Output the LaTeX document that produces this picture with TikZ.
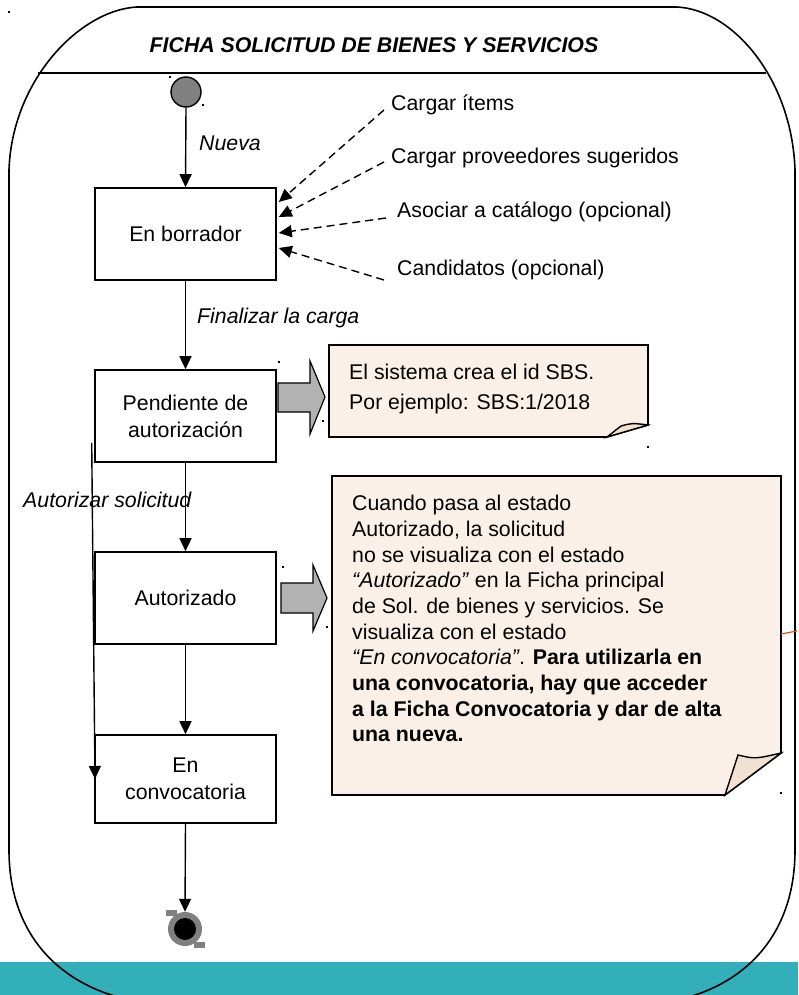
\documentclass[tikz,border=0pt]{standalone}
\usepackage{fontspec}
\setmainfont{Liberation Sans}
\usetikzlibrary{arrows.meta}
\definecolor{notefill}{HTML}{FAF0E7}
\definecolor{flapfill}{HTML}{F2E1D0}
\definecolor{tealband}{HTML}{33AFB9}
\definecolor{blockgray}{HTML}{B2B2B2}
\definecolor{startgray}{HTML}{808080}
\definecolor{redline}{HTML}{D9531E}
\begin{document}
\begin{tikzpicture}[x=1pt,y=-1pt,
  txt/.style={font=\fontsize{21.3}{25.7}\selectfont, inner sep=0pt},
  lbl/.style={txt, anchor=west},
  ilbl/.style={lbl, font=\fontsize{21.3}{25.7}\selectfont\itshape},
  state/.style={draw, line width=1.6pt, minimum width=181pt, minimum height=92pt, align=center, inner sep=0pt, font=\fontsize{21.3}{27}\selectfont},
  flow/.style={line width=1.4pt, -{Triangle[length=13pt,width=12pt]}},
  dflow/.style={line width=1.4pt, dash pattern=on 8pt off 5pt, -{Triangle[length=13pt,width=12pt]}},
  block/.style={draw, line width=1.2pt, fill=blockgray},
  notebox/.style={fill=notefill, draw, line width=1.6pt},
  flap/.style={fill=flapfill, draw, line width=1.4pt},
  handle/.style={fill=black, inner sep=0pt, minimum size=2.2pt},
]
\useasboundingbox (0,0) rectangle (798,995);
\fill[white] (0,0) rectangle (798,995);
% teal band
\fill[tealband] (0,962) rectangle (798,995);
% outer frame
\draw[line width=1.6pt] (9,850) -- (9,170) .. controls (12,80) and (80,10) .. (137,7) -- (677,7)
  .. controls (734,10) and (792,80) .. (795,170) -- (795,850)
  .. controls (795,935) and (745,985) .. (677,1000) -- (130,1000)
  .. controls (60,985) and (9,935) .. (9,850) -- cycle;
% title
\node[inner sep=0pt, font=\fontsize{21.3}{25}\selectfont\bfseries\itshape] (title) at (374,45) {FICHA SOLICITUD DE BIENES Y SERVICIOS};
\draw[line width=1.6pt] (38,73) -- (766,73);
% states
\node[circle, draw, line width=1.4pt, fill=startgray, minimum size=30pt, inner sep=0pt] (start) at (186,92) {};
\node[state] (borr) at (185.5,234) {En borrador};
\node[state] (pend) at (185.5,416) {Pendiente de\\autorización};
\node[state] (auto) at (185.5,598) {Autorizado};
\node[state, minimum height=88pt] (conv) at (185.5,779) {En\\convocatoria};
% end state
\fill[startgray] (166,910) rectangle (177,916);
\fill[startgray] (194,942) rectangle (205,948);
\node[circle, fill=startgray, minimum size=34pt, inner sep=0pt] (end) at (185,929) {};
\node[circle, fill=black, minimum size=22pt, inner sep=0pt] (endin) at (185,929) {};
% labels
\node[ilbl] (nueva) at (199,143) {Nueva};
\node[ilbl] (fin) at (197,318) {Finalizar la carga};
\node[ilbl] (autsol) at (23,500) {Autorizar solicitud};
\node[lbl] (ci) at (391,105) {Cargar ítems};
\node[lbl] (cp) at (391,158) {Cargar proveedores sugeridos};
\node[lbl] (ac) at (397,212) {Asociar a catálogo (opcional)};
\node[lbl] (cand) at (397,270) {Candidatos (opcional)};
% transitions
\draw[flow] (start.south) -- (borr.north);
\draw[flow] (borr.south) -- (pend.north);
\draw[flow] (pend.south) -- (auto.north);
\draw[flow] (auto.south) -- (conv.north);
\draw[flow] (conv.south) -- (end.north);
\coordinate (lend) at (95,779);
\draw[flow] ([shift={(-2.5,-20)}]pend.south west) -- (lend);
% dashed
\draw[dflow] ([shift={(-7,5)}]ci.west) -- ([shift={(2,-32)}]borr.east);
\draw[dflow] ([shift={(-7,4)}]cp.west) -- ([shift={(2,-17)}]borr.east);
\draw[dflow] ([shift={(-11,6)}]ac.west) -- ([shift={(2,-1)}]borr.east);
\draw[dflow] ([shift={(-13,10)}]cand.west) -- ([shift={(2,14)}]borr.east);
% block arrows
\draw[block] (278,383) -- (310,383) -- (310,361) -- (325,397) -- (310,434) -- (310,412) -- (278,412) -- cycle;
\draw[block] (281,583) -- (313,583) -- (313,565) -- (327,598) -- (313,631) -- (313,613) -- (281,613) -- cycle;
% note 1
\draw[notebox] (329,345) -- (648,345) -- (648,425) -- (607,437) -- (329,437) -- cycle;
\draw[flap] (607,437) -- (621,426) .. controls (632,423) .. (648,425) -- cycle;
\node[txt, anchor=north west, align=left, font=\fontsize{21.3}{30}\selectfont] (n1) at (349,364) {El sistema crea el id SBS.\\Por ejemplo: SBS:1/2018};
% note 2
\draw[notebox] (332,476) -- (781,476) -- (781,753) -- (725,795) -- (332,795) -- cycle;
\draw[flap] (725,795) -- (738,755) .. controls (755,759) .. (781,753) -- cycle;
\node[txt, anchor=north west, align=left] (n2) at (352,495) {Cuando pasa al estado\\
Autorizado, la solicitud\\
no se visualiza con el estado\\
\textit{“Autorizado”} en la Ficha principal\\
de Sol. de bienes y servicios. Se\\
visualiza con el estado\\
\textit{“En convocatoria”}. \textbf{Para utilizarla en}\\
\textbf{una convocatoria, hay que acceder}\\
\textbf{a la Ficha Convocatoria y dar de alta}\\
\textbf{una nueva.}};
% red mark
\draw[redline, line width=1.2pt] (781,634) .. controls (789,633) .. (797,631);
% handles
\foreach \p/\n in {{(9,12)}/h1,{(170,77)}/h2,{(203,105)}/h3,{(279,362)}/h4,{(323,421)}/h5,{(648,447)}/h6,{(283,567)}/h7,{(327,627)}/h8,{(781,793)}/h9}
  \node[handle] (\n) at \p {};
\end{tikzpicture}
\end{document}
